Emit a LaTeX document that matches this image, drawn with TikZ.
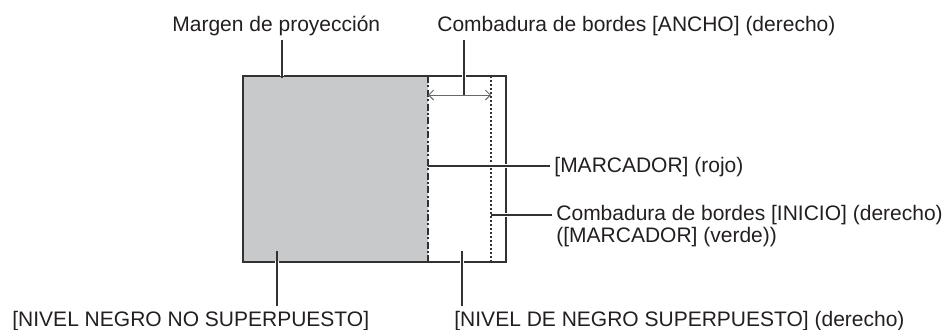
\documentclass[tikz,border=0pt]{standalone}
\usepackage{fontspec}
\setmainfont{Liberation Sans}
\usepackage{xcolor}
\usepackage{tikz}
\usetikzlibrary{arrows.meta, calc}
\definecolor{inkgray}{RGB}{35, 31, 32}
\definecolor{linegray}{RGB}{50, 50, 50}
\definecolor{margingray}{RGB}{200, 201, 203}
\definecolor{arrowgray}{RGB}{105, 105, 105}

\begin{document}
\begin{tikzpicture}[
          x=0.5pt, y=-0.5pt,
          lbl/.style={anchor=base west, inner sep=2pt, align=left, text=inkgray,
                      font=\fontsize{10.5}{11}\selectfont},
          edge/.style={draw=linegray, line width=0.8pt},
          markline/.style={draw=linegray, line width=0.8pt,
                      dash pattern=on 3.5pt off 1.2pt on 1pt off 1.2pt},
          startline/.style={draw=linegray, line width=0.6pt, dash pattern=on 1pt off 1pt},
          leader/.style={draw=linegray, line width=0.7pt,
                      preaction={draw=white, line width=2.4pt, shorten >=#1}},
          leader/.default=1pt,
          arr/.style={{Straight Barb[length=2.5pt, width=5pt]}-{Straight Barb[length=2.5pt, width=5pt]},
                      draw=arrowgray, line width=0.5pt},
        ]
        \useasboundingbox (0,0) rectangle (945,329);

        \fill[margingray] (243,76) rectangle (428,262);
        \draw[edge] (243,76) rectangle (506,262);
        \draw[markline] (428,76) -- (428,262);
        \draw[startline] (491,76) -- (491,262);

        \coordinate (wl) at (428,95);
        \coordinate (wr) at (491,95);
        \coordinate (wd) at (464,95);
        \coordinate (mg) at (282,78);
        \coordinate (mk) at (428,166);
        \coordinate (st) at (491,215);
        \coordinate (nb) at (277,251);
        \coordinate (ob) at (462,251);

        \node[lbl] (margen) at (168,31.5) {Margen de proyección};
        \node[lbl] (ancho)  at (433,31.5) {Combadura de bordes [ANCHO] (derecho)};
        \node[lbl] (rojo)   at (550,172.5) {[MARCADOR] (rojo)};
        \node[lbl] (inicio) at (552,242.5) {Combadura de bordes [INICIO] (derecho)\\([MARCADOR] (verde))};
        \node[lbl] (nonover) at (8,326) {[NIVEL NEGRO NO SUPERPUESTO]};
        \node[lbl] (over)    at (450,326) {[NIVEL DE NEGRO SUPERPUESTO] (derecho)};

        \draw[arr] (wl) -- (wr);
        \draw[leader] (margen.south -| mg) -- (mg);
        \draw[leader] (ancho.south -| wd) -- (wd);
        \draw[leader] (mk -| rojo.west) -- (mk);
        \draw[leader] (st -| inicio.west) -- (st);
        \draw[leader=5pt] (nonover.north -| nb) -- (nb);
        \draw[leader] (over.north -| ob) -- (ob);
      \end{tikzpicture}
\end{document}
